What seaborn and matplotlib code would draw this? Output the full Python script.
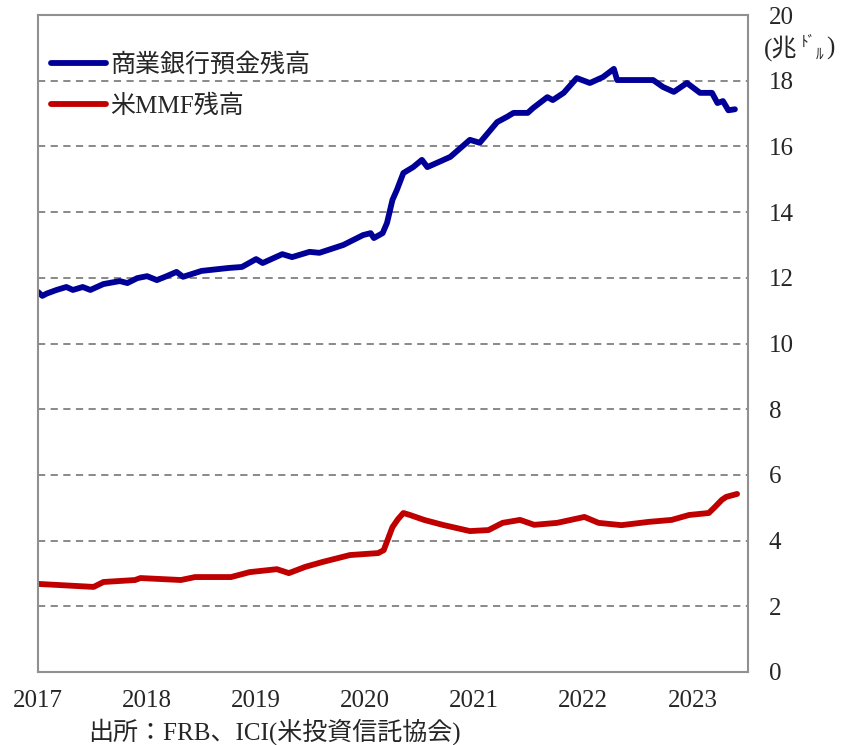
import pandas as pd
import matplotlib.pyplot as plt
import seaborn as sns

# 商業銀行預金残高 (兆ドル)
dep_year = [2017.00, 2017.04, 2017.08, 2017.17, 2017.26, 2017.32, 2017.41, 2017.48,
            2017.60, 2017.75, 2017.82, 2017.91, 2018.00, 2018.09, 2018.18, 2018.27,
            2018.33, 2018.50, 2018.75, 2018.87, 2019.00, 2019.06, 2019.24, 2019.33,
            2019.49, 2019.58, 2019.80, 2019.89, 2019.98, 2020.05, 2020.08, 2020.16,
            2020.20, 2020.25, 2020.29, 2020.35, 2020.44, 2020.52, 2020.57, 2020.78,
            2020.96, 2021.05, 2021.21, 2021.30, 2021.36, 2021.49, 2021.54, 2021.67,
            2021.72, 2021.82, 2021.94, 2022.06, 2022.18, 2022.28, 2022.31, 2022.46,
            2022.64, 2022.73, 2022.83, 2022.95, 2023.07, 2023.18, 2023.23, 2023.28,
            2023.33, 2023.39]
dep_val = [11.57, 11.45, 11.52, 11.63, 11.72, 11.63, 11.72, 11.63,
           11.81, 11.90, 11.84, 11.99, 12.05, 11.93, 12.05, 12.18,
           12.03, 12.21, 12.30, 12.33, 12.57, 12.45, 12.72, 12.63,
           12.79, 12.76, 13.00, 13.15, 13.30, 13.36, 13.21, 13.36,
           13.67, 14.37, 14.67, 15.19, 15.37, 15.59, 15.37, 15.68,
           16.20, 16.11, 16.74, 16.90, 17.02, 17.02, 17.17, 17.50,
           17.41, 17.63, 18.08, 17.93, 18.11, 18.36, 18.02, 18.02,
           18.02, 17.81, 17.66, 17.93, 17.63, 17.63, 17.32, 17.38,
           17.10, 17.13]

# 米MMF残高 (兆ドル)
mmf_year = [2017.01, 2017.51, 2017.60, 2017.89, 2017.94, 2018.31, 2018.44, 2018.77,
            2018.94, 2019.19, 2019.30, 2019.45, 2019.61, 2019.86, 2020.12, 2020.17,
            2020.25, 2020.30, 2020.35, 2020.41, 2020.54, 2020.71, 2020.96, 2021.13,
            2021.26, 2021.42, 2021.55, 2021.76, 2022.01, 2022.14, 2022.35, 2022.60,
            2022.81, 2022.97, 2023.15, 2023.20, 2023.27, 2023.31, 2023.41]
mmf_val = [2.68, 2.59, 2.74, 2.80, 2.86, 2.80, 2.89, 2.89,
           3.04, 3.13, 3.01, 3.20, 3.35, 3.56, 3.62, 3.71,
           4.41, 4.65, 4.84, 4.78, 4.63, 4.48, 4.29, 4.32,
           4.54, 4.63, 4.48, 4.54, 4.72, 4.54, 4.47, 4.57,
           4.63, 4.78, 4.84, 5.00, 5.24, 5.33, 5.42]

labels = ['商業銀行預金残高', '米MMF残高']
colors = ['#000099', '#C00000']
years = list(range(2017, 2024))
yticks = list(range(0, 21, 2))

df = pd.concat([
    pd.DataFrame({'year': dep_year, 'value': dep_val, 'series': labels[0]}),
    pd.DataFrame({'year': mmf_year, 'value': mmf_val, 'series': labels[1]}),
])

sns.set_style('white')
fonts = ['Liberation Serif', 'Noto Sans CJK JP']
plt.rcParams['font.family'] = fonts

W, H = 841, 745
fig = plt.figure(figsize=(W / 100, H / 100), dpi=100)
ax = fig.add_axes([38 / W, 73 / H, 710 / W, 657 / H])

sns.lineplot(data=df, x='year', y='value', hue='series', palette=colors,
             linewidth=4.2, ax=ax, sort=False)

ax.set_xlim(2017, 2023.51)
ax.set_ylim(0, 20)
ax.set_xticks(years)
ax.set_xticklabels([str(y) for y in years], fontsize=18)
ax.set_yticks(yticks)
ax.set_yticklabels([str(v) for v in yticks], fontsize=18, ha='left')
ax.yaxis.tick_right()
ax.tick_params(axis='y', length=0, pad=15)
ax.tick_params(axis='x', length=0, pad=13)
ax.set_xlabel('')
ax.set_ylabel('')

for y in yticks[1:-1]:
    ax.axhline(y, color='#808080', lw=1.3, ls=(0, (4, 3)), zorder=0)
for s in ax.spines.values():
    s.set_color('#909090')
    s.set_linewidth(1.5)

h, l = ax.get_legend_handles_labels()
ax.legend(h, l, loc='upper left', bbox_to_anchor=(0.0, 0.961), frameon=False,
          fontsize=18, handlelength=2.2, handletextpad=0.2, labelspacing=0.7,
          borderaxespad=0.1)

# 単位 (兆ﾄﾞﾙ)
fig.text(764 / W, 1 - 48 / H, '(兆', fontsize=18, va='center', ha='left')
fig.text(801 / W, 1 - 43 / H, 'ﾄﾞ', fontsize=11, va='center', ha='left')
fig.text(816 / W, 1 - 55 / H, 'ﾙ', fontsize=11, va='center', ha='left')
fig.text(826 / W, 1 - 48 / H, ')', fontsize=18, va='center', ha='left')

fig.text(88 / W, 13 / H, '出所：FRB、ICI(米投資信託協会)', fontsize=18,
         va='center', ha='left')

fig.savefig('out.png', dpi=100)
